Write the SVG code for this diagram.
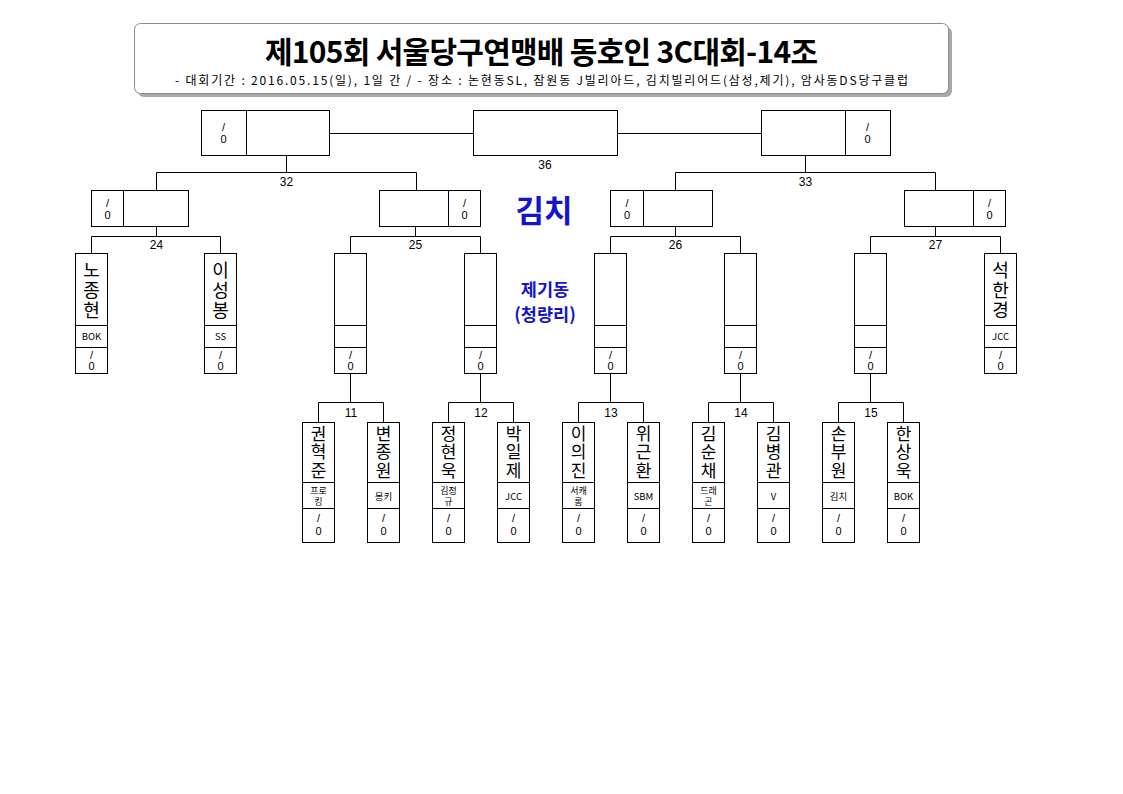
<svg xmlns="http://www.w3.org/2000/svg" width="1123" height="794" viewBox="0 0 1123 794">
<style>
.ln{stroke:#000;stroke-width:1;fill:none}
.bx{fill:#fff;stroke:#000;stroke-width:1}
text{font-family:"Noto Sans CJK KR","Liberation Sans",sans-serif;fill:#000;text-anchor:middle;dominant-baseline:central}
.sc{font-family:"Liberation Sans","Noto Sans CJK KR",sans-serif;font-size:11px}
.lbl{font-family:"Liberation Sans","Noto Sans CJK KR",sans-serif;font-size:12px}
.nm{font-size:18px;writing-mode:vertical-rl;text-orientation:upright;letter-spacing:2px}
.nm2{font-size:17px;writing-mode:vertical-rl;text-orientation:upright;letter-spacing:1.3px}
.cl{font-size:9.5px}
.cl2{font-size:9px}
.blue{fill:#1414cc;font-weight:bold}
</style>
<rect width="1123" height="794" fill="#fff"/>
<g id="title">
<rect x="138" y="27" width="814" height="70" rx="6" fill="#a8a8a8"/>
<rect x="134.5" y="23.5" width="814" height="70" rx="6" fill="#fff" stroke="#8c8c8c" stroke-width="1"/>
<text x="541.5" y="50" font-size="30" font-weight="bold" textLength="553" lengthAdjust="spacing">제105회  서울당구연맹배  동호인  3C대회-14조</text>
<text x="175" y="79.5" font-size="12" style="text-anchor:start" textLength="733" lengthAdjust="spacing">-  대회기간 : 2016.05.15(일), 1일 간 / - 장소 : 논현동SL, 잠원동 J빌리아드, 김치빌리어드(삼성,제기), 암사동DS당구클럽</text>
</g>
<g id="connectors">
<path class="ln" d="M329 133.5H473M617 133.5H761"/>
<path class="ln" d="M286.5 155V172.5M156.5 190V172.5H416.5V190"/>
<path class="ln" d="M805.5 155V172.5M675.5 190V172.5H935.5V190"/>
<path class="ln" d="M156.5 226V236.5M91.5 253V236.5H220.5V253"/>
<path class="ln" d="M415.5 226V236.5M350.5 253V236.5H480.5V253"/>
<path class="ln" d="M675.5 226V236.5M610.5 253V236.5H740.5V253"/>
<path class="ln" d="M935.5 226V236.5M870.5 253V236.5H1000.5V253"/>
<path class="ln" d="M350.5 373V402.5M318.5 423V402.5H383.5V423"/>
<path class="ln" d="M480.5 373V402.5M448.5 423V402.5H513.5V423"/>
<path class="ln" d="M610.5 373V402.5M578.5 423V402.5H643.5V423"/>
<path class="ln" d="M740.5 373V402.5M708.5 423V402.5H773.5V423"/>
<path class="ln" d="M870.5 373V402.5M838.5 423V402.5H903.5V423"/>
<text class="lbl" x="545" y="165">36</text>
<text class="lbl" x="286.5" y="182">32</text>
<text class="lbl" x="805.5" y="182">33</text>
<text class="lbl" x="156.5" y="245">24</text>
<text class="lbl" x="415.5" y="245">25</text>
<text class="lbl" x="675.5" y="245">26</text>
<text class="lbl" x="935.5" y="245">27</text>
<text class="lbl" x="351" y="413">11</text>
<text class="lbl" x="481" y="413">12</text>
<text class="lbl" x="611" y="413">13</text>
<text class="lbl" x="741" y="413">14</text>
<text class="lbl" x="871" y="413">15</text>
</g>
<g id="labels">
<text x="544" y="208" font-size="31" class="blue">김치</text>
<text x="545" y="288.5" font-size="17.5" class="blue">제기동</text>
<text x="545" y="313.5" font-size="17.5" class="blue">(청량리)</text>
</g>
<g id="final">
<rect class="bx" x="201.5" y="110.5" width="128" height="45"/><path class="ln" d="M246.5 110.5V155.5"/>
<text class="sc" x="223.5" y="127">/</text><text class="sc" x="223.5" y="139">0</text>
<rect class="bx" x="473.5" y="110.5" width="144" height="45"/>
<rect class="bx" x="761.5" y="110.5" width="129" height="45"/><path class="ln" d="M845.5 110.5V155.5"/>
<text class="sc" x="867.5" y="127">/</text><text class="sc" x="867.5" y="139">0</text>
</g>
<g id="semi">
<rect class="bx" x="91.5" y="190.5" width="97" height="36"/><path class="ln" d="M123.5 190.5V226.5"/>
<text class="sc" x="107.5" y="203">/</text><text class="sc" x="107.5" y="215">0</text>
<rect class="bx" x="379.5" y="190.5" width="101" height="36"/><path class="ln" d="M448.5 190.5V226.5"/>
<text class="sc" x="464.5" y="203">/</text><text class="sc" x="464.5" y="215">0</text>
<rect class="bx" x="610.5" y="190.5" width="102" height="36"/><path class="ln" d="M643.5 190.5V226.5"/>
<text class="sc" x="627" y="203">/</text><text class="sc" x="627" y="215">0</text>
<rect class="bx" x="904.5" y="190.5" width="101" height="36"/><path class="ln" d="M973.5 190.5V226.5"/>
<text class="sc" x="989.5" y="203">/</text><text class="sc" x="989.5" y="215">0</text>
</g>
<g id="r16">
<g id="r16-1">
<rect class="bx" x="75.5" y="253.5" width="32" height="120"/><path class="ln" d="M75.5 325.5H107.5M75.5 347.5H107.5"/>
<text class="nm" x="91.5" y="291">노종현</text>
<text class="cl" x="91.5" y="336">BOK</text>
<text class="sc" x="91.5" y="354.5">/</text><text class="sc" x="91.5" y="366">0</text>
</g>
<g id="r16-2">
<rect class="bx" x="204.5" y="253.5" width="32" height="120"/><path class="ln" d="M204.5 325.5H236.5M204.5 347.5H236.5"/>
<text class="nm" x="220.5" y="291">이성봉</text>
<text class="cl" x="220.5" y="336">SS</text>
<text class="sc" x="220.5" y="354.5">/</text><text class="sc" x="220.5" y="366">0</text>
</g>
<g id="r16-3">
<rect class="bx" x="334.5" y="253.5" width="32" height="120"/><path class="ln" d="M334.5 325.5H366.5M334.5 347.5H366.5"/>
<text class="sc" x="350.5" y="354.5">/</text><text class="sc" x="350.5" y="366">0</text>
</g>
<g id="r16-4">
<rect class="bx" x="464.5" y="253.5" width="32" height="120"/><path class="ln" d="M464.5 325.5H496.5M464.5 347.5H496.5"/>
<text class="sc" x="480.5" y="354.5">/</text><text class="sc" x="480.5" y="366">0</text>
</g>
<g id="r16-5">
<rect class="bx" x="594.5" y="253.5" width="32" height="120"/><path class="ln" d="M594.5 325.5H626.5M594.5 347.5H626.5"/>
<text class="sc" x="610.5" y="354.5">/</text><text class="sc" x="610.5" y="366">0</text>
</g>
<g id="r16-6">
<rect class="bx" x="724.5" y="253.5" width="32" height="120"/><path class="ln" d="M724.5 325.5H756.5M724.5 347.5H756.5"/>
<text class="sc" x="740.5" y="354.5">/</text><text class="sc" x="740.5" y="366">0</text>
</g>
<g id="r16-7">
<rect class="bx" x="854.5" y="253.5" width="32" height="120"/><path class="ln" d="M854.5 325.5H886.5M854.5 347.5H886.5"/>
<text class="sc" x="870.5" y="354.5">/</text><text class="sc" x="870.5" y="366">0</text>
</g>
<g id="r16-8">
<rect class="bx" x="984.5" y="253.5" width="32" height="120"/><path class="ln" d="M984.5 325.5H1016.5M984.5 347.5H1016.5"/>
<text class="nm" x="1000.5" y="291">석한경</text>
<text class="cl" x="1000.5" y="336">JCC</text>
<text class="sc" x="1000.5" y="354.5">/</text><text class="sc" x="1000.5" y="366">0</text>
</g>
</g>
<g id="r32">
<g id="p11a">
<rect class="bx" x="302.5" y="422.5" width="32" height="120"/><path class="ln" d="M302.5 482.5H334.5M302.5 508.5H334.5"/>
<text class="nm2" x="318.5" y="452.5">권혁준</text>
<text class="cl2" x="318.5" y="490">프로</text><text class="cl2" x="318.5" y="501">킹</text>
<text class="sc" x="318.5" y="518">/</text><text class="sc" x="318.5" y="531">0</text>
</g>
<g id="p11b">
<rect class="bx" x="367.5" y="422.5" width="32" height="120"/><path class="ln" d="M367.5 482.5H399.5M367.5 508.5H399.5"/>
<text class="nm2" x="383.5" y="452.5">변종원</text>
<text class="cl" x="383.5" y="495.5">몽키</text>
<text class="sc" x="383.5" y="518">/</text><text class="sc" x="383.5" y="531">0</text>
</g>
<g id="p12a">
<rect class="bx" x="432.5" y="422.5" width="32" height="120"/><path class="ln" d="M432.5 482.5H464.5M432.5 508.5H464.5"/>
<text class="nm2" x="448.5" y="452.5">정현욱</text>
<text class="cl2" x="448.5" y="490">김정</text><text class="cl2" x="448.5" y="501">규</text>
<text class="sc" x="448.5" y="518">/</text><text class="sc" x="448.5" y="531">0</text>
</g>
<g id="p12b">
<rect class="bx" x="497.5" y="422.5" width="32" height="120"/><path class="ln" d="M497.5 482.5H529.5M497.5 508.5H529.5"/>
<text class="nm2" x="513.5" y="452.5">박일제</text>
<text class="cl" x="513.5" y="495.5">JCC</text>
<text class="sc" x="513.5" y="518">/</text><text class="sc" x="513.5" y="531">0</text>
</g>
<g id="p13a">
<rect class="bx" x="562.5" y="422.5" width="32" height="120"/><path class="ln" d="M562.5 482.5H594.5M562.5 508.5H594.5"/>
<text class="nm2" x="578.5" y="452.5">이의진</text>
<text class="cl2" x="578.5" y="490">서캐</text><text class="cl2" x="578.5" y="501">롬</text>
<text class="sc" x="578.5" y="518">/</text><text class="sc" x="578.5" y="531">0</text>
</g>
<g id="p13b">
<rect class="bx" x="627.5" y="422.5" width="32" height="120"/><path class="ln" d="M627.5 482.5H659.5M627.5 508.5H659.5"/>
<text class="nm2" x="643.5" y="452.5">위근환</text>
<text class="cl" x="643.5" y="495.5">SBM</text>
<text class="sc" x="643.5" y="518">/</text><text class="sc" x="643.5" y="531">0</text>
</g>
<g id="p14a">
<rect class="bx" x="692.5" y="422.5" width="32" height="120"/><path class="ln" d="M692.5 482.5H724.5M692.5 508.5H724.5"/>
<text class="nm2" x="708.5" y="452.5">김순채</text>
<text class="cl2" x="708.5" y="490">드래</text><text class="cl2" x="708.5" y="501">곤</text>
<text class="sc" x="708.5" y="518">/</text><text class="sc" x="708.5" y="531">0</text>
</g>
<g id="p14b">
<rect class="bx" x="757.5" y="422.5" width="32" height="120"/><path class="ln" d="M757.5 482.5H789.5M757.5 508.5H789.5"/>
<text class="nm2" x="773.5" y="452.5">김병관</text>
<text class="cl" x="773.5" y="495.5">V</text>
<text class="sc" x="773.5" y="518">/</text><text class="sc" x="773.5" y="531">0</text>
</g>
<g id="p15a">
<rect class="bx" x="822.5" y="422.5" width="32" height="120"/><path class="ln" d="M822.5 482.5H854.5M822.5 508.5H854.5"/>
<text class="nm2" x="838.5" y="452.5">손부원</text>
<text class="cl" x="838.5" y="495.5">김치</text>
<text class="sc" x="838.5" y="518">/</text><text class="sc" x="838.5" y="531">0</text>
</g>
<g id="p15b">
<rect class="bx" x="887.5" y="422.5" width="32" height="120"/><path class="ln" d="M887.5 482.5H919.5M887.5 508.5H919.5"/>
<text class="nm2" x="903.5" y="452.5">한상욱</text>
<text class="cl" x="903.5" y="495.5">BOK</text>
<text class="sc" x="903.5" y="518">/</text><text class="sc" x="903.5" y="531">0</text>
</g>
</g>
</svg>
